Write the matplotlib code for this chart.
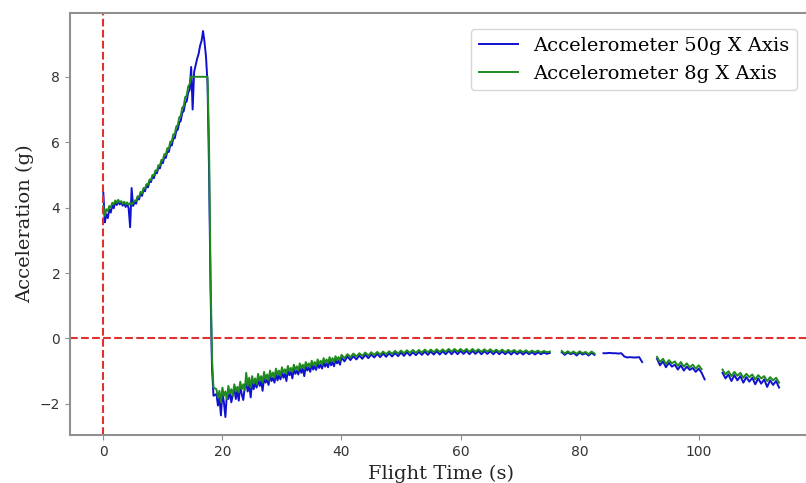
import matplotlib
matplotlib.use("Agg")
import matplotlib.pyplot as plt
import numpy as np

nan = np.nan

# sample spacing of each stretch of the log (s)
boost_start, boost_step = 0.0, 0.25
coast1_start, coast1_step = 19.0, 0.25
coast2_start, coast2_step = 40.0, 0.5

# 50g accelerometer, X axis (g)
acc50_boost = [4.45, 3.55, 3.80, 3.68, 3.95, 3.85, 4.08, 3.98, 4.18, 4.08,
               4.20, 4.10, 4.16, 4.06, 4.14, 4.02, 4.12, 3.98, 3.40, 4.60,
               4.05, 4.18, 4.12, 4.30, 4.25, 4.42, 4.36, 4.55, 4.50, 4.68,
               4.62, 4.80, 4.78, 4.95, 4.90, 5.08, 5.05, 5.22, 5.20, 5.38,
               5.36, 5.55, 5.52, 5.72, 5.70, 5.92, 5.90, 6.12, 6.12, 6.35,
               6.38, 6.60, 6.65, 6.90, 6.95, 7.20, 7.25, 7.52, 7.60, 8.30,
               7.00, 8.15, 8.35, 8.55, 8.70, 8.95, 9.10, 9.40, 9.05, 8.60,
               7.80, 5.20, 1.60, -0.90, -1.75]
acc50_coast1 = [-1.70, -2.05, -1.80, -2.35,  # 19 s
                -1.65, -1.95, -2.40, -1.70,
                -1.85, -1.60, -1.95, -1.72,
                -1.52, -1.85, -1.60, -1.90,
                -1.45, -1.70, -1.88, -1.50,
                -1.35, -1.62, -1.40, -1.80,
                -1.30, -1.55, -1.35, -1.50,
                -1.22, -1.45, -1.30, -1.60,
                -1.18, -1.35, -1.25, -1.42,
                -1.12, -1.30, -1.20, -1.35,
                -1.05, -1.28, -1.12, -1.25,  # 29 s
                -1.02, -1.20, -1.08, -1.30,
                -0.95, -1.12, -1.02, -1.22,
                -0.92, -1.08, -0.98, -1.10,
                -0.88, -1.05, -0.92, -1.15,
                -0.82, -0.98, -0.88, -1.02,
                -0.78, -0.95, -0.84, -0.96,
                -0.75, -0.90, -0.80, -0.92,
                -0.70, -0.86, -0.76, -0.88,
                -0.66, -0.82, -0.72, -0.85,
                -0.64, -0.76, -0.68, -0.80]  # 39 s
acc50_coast2 = [-0.58, -0.70, -0.55, -0.66, -0.54, -0.64, -0.52, -0.62, -0.50, -0.60,  # 40 s
                -0.49, -0.58, -0.47, -0.57, -0.46, -0.56, -0.45, -0.55, -0.44, -0.54,
                -0.43, -0.53, -0.42, -0.52, -0.42, -0.51, -0.41, -0.50, -0.40, -0.50,  # 50 s
                -0.40, -0.49, -0.39, -0.49, -0.39, -0.48, -0.38, -0.48, -0.38, -0.48,
                -0.38, -0.47, -0.38, -0.48, -0.38, -0.47, -0.38, -0.48, -0.39, -0.47,  # 60 s
                -0.39, -0.48, -0.39, -0.48, -0.40, -0.48, -0.40, -0.49, -0.40, -0.48,
                -0.41, -0.49, -0.41, -0.48, -0.42, -0.49, -0.42, -0.48, -0.43, -0.47,  # 70 s
                -0.44, nan, nan, nan, -0.42, -0.50, -0.43, -0.48, -0.44, -0.52,
                -0.43, -0.49, -0.45, -0.52, -0.44, -0.50, nan, nan, -0.45, -0.45,  # 80 s
                -0.44, -0.45, -0.45, -0.46, -0.45, -0.55, -0.58, -0.57, -0.58, -0.58,
                -0.57, -0.72, nan, nan, nan, nan, -0.62, -0.82, -0.70, -0.88,  # 90 s
                -0.74, -0.86, -0.80, -0.95, -0.82, -0.98, -0.86, -0.96, -0.90, -1.02,
                -0.92, -1.05, -1.25, nan, nan, nan, nan, nan, -1.05, -1.22,  # 100 s
                -1.10, -1.30, -1.12, -1.28, -1.15, -1.35, -1.18, -1.32, -1.20, -1.40,
                -1.22, -1.38, -1.25, -1.48, -1.28, -1.42, -1.30, -1.50]  # 110 s

# 8g accelerometer, X axis (g) - clips at 8 g
acc8_boost = [4.05, 3.75, 3.95, 3.90, 4.05, 4.00, 4.15, 4.10, 4.22, 4.15,
              4.24, 4.16, 4.20, 4.12, 4.18, 4.10, 4.16, 4.08, 4.14, 4.10,
              4.15, 4.22, 4.20, 4.35, 4.32, 4.48, 4.44, 4.60, 4.58, 4.72,
              4.70, 4.86, 4.84, 5.00, 4.98, 5.14, 5.12, 5.30, 5.28, 5.46,
              5.45, 5.64, 5.62, 5.82, 5.80, 6.02, 6.02, 6.24, 6.25, 6.48,
              6.52, 6.76, 6.80, 7.06, 7.10, 7.38, 7.42, 7.70, 7.78, 8.00,
              8.00, 8.00, 8.00, 8.00, 8.00, 8.00, 8.00, 8.00, 8.00, 8.00,
              8.00, 6.00, 2.00, -0.60, -1.50]
acc8_coast1 = [-1.55, -1.80, -1.60, -1.95,  # 19 s
               -1.50, -1.75, -1.62, -1.85,
               -1.45, -1.68, -1.55, -1.75,
               -1.40, -1.60, -1.48, -1.65,
               -1.32, -1.55, -1.40, -1.58,
               -1.05, -1.45, -1.20, -1.50,
               -1.15, -1.38, -1.22, -1.40,
               -1.08, -1.30, -1.15, -1.35,
               -1.02, -1.25, -1.10, -1.28,
               -0.98, -1.18, -1.04, -1.20,
               -0.92, -1.12, -0.98, -1.14,  # 29 s
               -0.88, -1.05, -0.94, -1.08,
               -0.84, -1.00, -0.90, -1.02,
               -0.80, -0.96, -0.85, -0.98,
               -0.76, -0.92, -0.80, -0.93,
               -0.72, -0.86, -0.76, -0.88,
               -0.68, -0.82, -0.72, -0.84,
               -0.64, -0.78, -0.68, -0.80,
               -0.60, -0.74, -0.64, -0.75,
               -0.57, -0.70, -0.60, -0.72,
               -0.54, -0.66, -0.57, -0.68]  # 39 s
acc8_coast2 = [-0.50, -0.60, -0.48, -0.57, -0.46, -0.55, -0.45, -0.53, -0.43, -0.52,  # 40 s
               -0.42, -0.50, -0.41, -0.49, -0.40, -0.48, -0.39, -0.47, -0.38, -0.46,
               -0.37, -0.45, -0.36, -0.44, -0.35, -0.44, -0.35, -0.43, -0.34, -0.42,  # 50 s
               -0.34, -0.42, -0.33, -0.41, -0.33, -0.41, -0.32, -0.40, -0.32, -0.40,
               -0.32, -0.40, -0.32, -0.41, -0.32, -0.40, -0.33, -0.41, -0.33, -0.40,  # 60 s
               -0.33, -0.41, -0.34, -0.41, -0.34, -0.42, -0.35, -0.41, -0.35, -0.42,
               -0.36, -0.42, -0.36, -0.43, -0.37, -0.42, -0.37, -0.43, -0.38, -0.42,  # 70 s
               -0.40, nan, nan, nan, -0.38, -0.46, -0.39, -0.45, -0.40, -0.47,
               -0.39, -0.45, -0.41, -0.48, -0.40, -0.46, nan, nan, nan, nan,  # 80 s
               nan, nan, nan, nan, nan, nan, nan, nan, nan, nan,
               nan, nan, nan, nan, nan, nan, -0.56, -0.72, -0.62, -0.78,  # 90 s
               -0.66, -0.76, -0.70, -0.84, -0.72, -0.86, -0.76, -0.88, -0.80, -0.92,
               -0.82, -0.94, nan, nan, nan, nan, nan, nan, -0.95, -1.10,  # 100 s
               -1.00, -1.15, -1.02, -1.14, -1.05, -1.20, -1.08, -1.18, -1.10, -1.25,
               -1.12, -1.22, -1.15, -1.30, -1.18, -1.28, -1.20, -1.35]  # 110 s


def stitch(parts):
    # join the stretches into one time / value pair
    ts, vs = [], []
    for start, step, vals in parts:
        ts.append(start + step * np.arange(len(vals)))
        vs.append(np.array(vals, dtype=float))
    return np.concatenate(ts), np.concatenate(vs)


t50, a50 = stitch([(boost_start, boost_step, acc50_boost),
                   (coast1_start, coast1_step, acc50_coast1),
                   (coast2_start, coast2_step, acc50_coast2)])
t8, a8 = stitch([(boost_start, boost_step, acc8_boost),
                 (coast1_start, coast1_step, acc8_coast1),
                 (coast2_start, coast2_step, acc8_coast2)])

fig = plt.figure(figsize=(8.06, 4.83), dpi=100)
ax = fig.add_axes([70 / 806, 48 / 483, 743 / 806, 422 / 483])

ax.plot(t50, a50, color="#1010d0", lw=1.4, label="Accelerometer 50g X Axis")
ax.plot(t8, a8, color="#1e8a1e", lw=1.4, label="Accelerometer 8g X Axis")
ax.axvline(0, color="#e03030", ls="--", lw=1.5)
ax.axhline(0, color="#e03030", ls="--", lw=1.5)

ax.set_xlim(-5.6, 119.2)
ax.set_ylim(-2.95, 9.95)
ax.set_xticks([0, 20, 40, 60, 80, 100])
ax.set_yticks([-2, 0, 2, 4, 6, 8])

for s in ax.spines.values():
    s.set_color("#909090")
    s.set_linewidth(1.5)
ax.tick_params(colors="#909090", labelcolor="#333333", labelsize=10)

ax.set_xlabel("Flight Time (s)", family="DejaVu Serif", fontsize=14, color="#222222")
ax.set_ylabel("Acceleration (g)", family="DejaVu Serif", fontsize=14, color="#222222")
ax.legend(loc="upper right", prop={"family": "DejaVu Serif", "size": 14},
          bbox_to_anchor=(0.992, 0.985), handlelength=2.0)

fig.savefig("out.png", dpi=100)
